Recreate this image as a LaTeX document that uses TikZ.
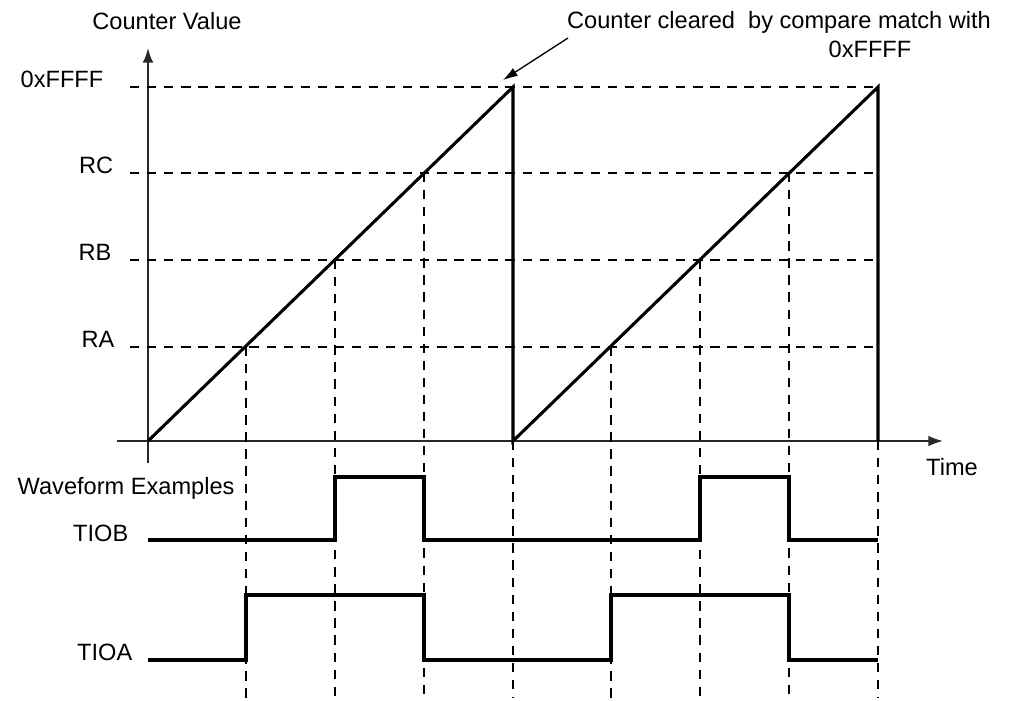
\documentclass[tikz,border=0pt]{standalone}
\usepackage{fontspec}
\setmainfont{Liberation Sans}
\usetikzlibrary{arrows.meta}
\definecolor{axisgray}{RGB}{40,40,40}
\definecolor{inkblack}{RGB}{0,0,0}

\begin{document}
\begin{tikzpicture}[x=0.75pt, y=-0.75pt,
    font=\fontsize{17.7}{21}\selectfont,
    axis/.style={axisgray, line width=1.4pt, -{Latex[length=11pt,width=8pt]}},
    guide/.style={inkblack, line width=1.1pt, dash pattern=on 7pt off 5.8pt},
    signal/.style={inkblack, line width=2.3pt, line join=miter}]

% Frame
\useasboundingbox (0,0) rectangle (1010,700);

% Axes
\draw[axis] (148,463) -- (148,48); % Y-axis
\draw[axis] (117,441) -- (943,441); % X-axis

% Title
\node (cval) [anchor=base] at (167,29) {Counter Value};
\node (time) [anchor=base] at (952,475) {Time};

% Compare levels (0xFFFF, RC, RB, RA)
\foreach \y/\lab/\lx [count=\i] in {87/0xFFFF/108, 173/RC/118, 260/RB/116, 347/RA/119} {
    \draw[guide] (130,\y) -- (878,\y);
    \node (lvl\i) [anchor=base east] at (\lx,\y) {\lab};
}

% Vertical guides (compare matches)
\foreach \x/\y in {246/347, 335/260, 424/173, 611/347, 700/260, 789/173} {
    \draw[guide] (\x,\y) -- (\x,698);
}
\foreach \x in {513,878} {
    \draw[guide] (\x,441) -- (\x,698);
}

% Counter ramp
\draw[signal] (148,441) -- (513,87) -- (513,441) -- (878,87) -- (878,441);

% Note
\node (note) [anchor=base] at (779,28) {Counter cleared~ by compare match with};
\node (note2) [anchor=base] at (870,57) {0xFFFF};
\coordinate (tail) at (568,38);
\coordinate (peak) at (503,80);
\draw[inkblack, line width=1pt, -{Latex[length=11pt,width=7pt]}] (tail) -- (peak);

% Waveforms
\node (wave) [anchor=base west] at (13,494) {Waveform Examples};
\node (tiob) [anchor=base east] at (133,541) {TIOB};
\node (tioa) [anchor=base east] at (137,660) {TIOA};

\draw[signal] (148,540) -- (335,540) -- (335,477) -- (424,477) -- (424,540)
    -- (700,540) -- (700,477) -- (789,477) -- (789,540) -- (878,540);
\draw[signal] (148,660) -- (246,660) -- (246,595) -- (424,595) -- (424,660)
    -- (611,660) -- (611,595) -- (789,595) -- (789,660) -- (878,660);

\end{tikzpicture}
\end{document}
